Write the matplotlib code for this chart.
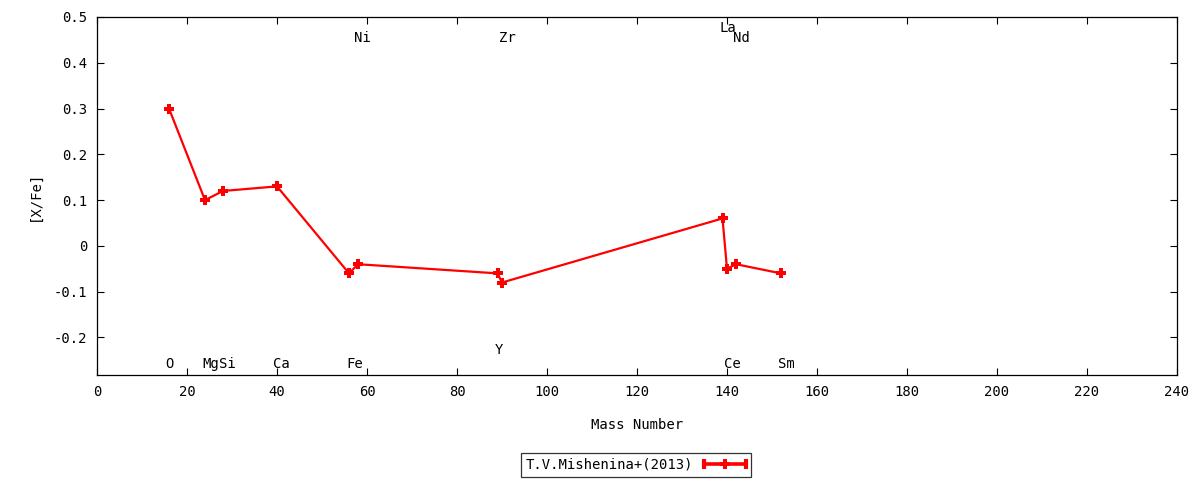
import matplotlib
matplotlib.use("Agg")
import matplotlib.pyplot as plt
from matplotlib.lines import Line2D
from matplotlib.legend_handler import HandlerBase

elements = ["O", "Mg", "Si", "Ca", "Fe", "Ni", "Y", "Zr", "La", "Ce", "Nd", "Sm"]
mass = [16, 24, 28, 40, 56, 58, 89, 90, 139, 140, 142, 152]
xfe = [0.30, 0.10, 0.12, 0.13, -0.06, -0.04, -0.06, -0.08, 0.06, -0.05, -0.04, -0.06]
label_x = [16, 25.2, 29, 41, 57.2, 59, 89.4, 91.1, 140.2, 141.1, 143.1, 153.1]
label_y = [-0.258, -0.258, -0.258, -0.258, -0.258, 0.455, -0.228, 0.455, 0.477, -0.258, 0.455, -0.258]
series_name = "T.V.Mishenina+(2013)"

plt.rcParams['font.family'] = ['DejaVu Sans Mono']
FS = 10


class GnuplotKeyHandler(HandlerBase):
    def create_artists(self, legend, orig_handle, xdescent, ydescent, width, height, fontsize, trans):
        y = height / 2 - ydescent
        x0, x1 = -xdescent, width - xdescent
        line = Line2D([x0, x1], [y, y], color='red', lw=2.6, transform=trans)
        caps = Line2D([x0, x1], [y, y], ls='none', marker='|', markersize=7,
                      markeredgewidth=3, color='red', transform=trans)
        mid = Line2D([(x0 + x1) / 2], [y], ls='none', marker='P', markersize=7,
                     markeredgewidth=0, color='red', transform=trans)
        return [line, caps, mid]


fig = plt.figure(figsize=(12, 4.8), dpi=100)
ax = fig.add_axes([97/1200, 1-375/480, (1177-97)/1200, (375-17)/480])

line, = ax.plot(mass, xfe, color='red', lw=1.6, marker='P', markersize=7,
                markeredgewidth=0, label=series_name)

for el, lx, ly in zip(elements, label_x, label_y):
    ax.text(lx, ly, el, ha='center', va='center', fontsize=FS, color='black')

ax.set_xlim(0, 240)
ax.set_ylim(-0.282, 0.5)
ax.set_xticks(range(0, 241, 20))
yt = [-0.2, -0.1, 0, 0.1, 0.2, 0.3, 0.4, 0.5]
ax.set_yticks(yt)
ax.set_yticklabels(["-0.2", "-0.1", "0", "0.1", "0.2", "0.3", "0.4", "0.5"])
ax.tick_params(direction='in', top=True, right=True, length=5, width=0.8,
               labelsize=FS, pad=7)
for s in ax.spines.values():
    s.set_linewidth(0.9)
ax.set_xlabel("Mass Number", fontsize=FS, labelpad=14)
ax.set_ylabel("[X/Fe]", fontsize=FS, labelpad=9)

leg = fig.legend(handles=[line], labels=[series_name], loc='center',
                 bbox_to_anchor=(636/1200, 1-465/480), markerfirst=False,
                 fontsize=FS, frameon=True, fancybox=False, edgecolor='black',
                 borderpad=0.35, handlelength=3.0, handletextpad=0.8, borderaxespad=0,
                 handler_map={Line2D: GnuplotKeyHandler()})
leg.get_frame().set_linewidth(0.9)

fig.savefig("out.png", dpi=100)
